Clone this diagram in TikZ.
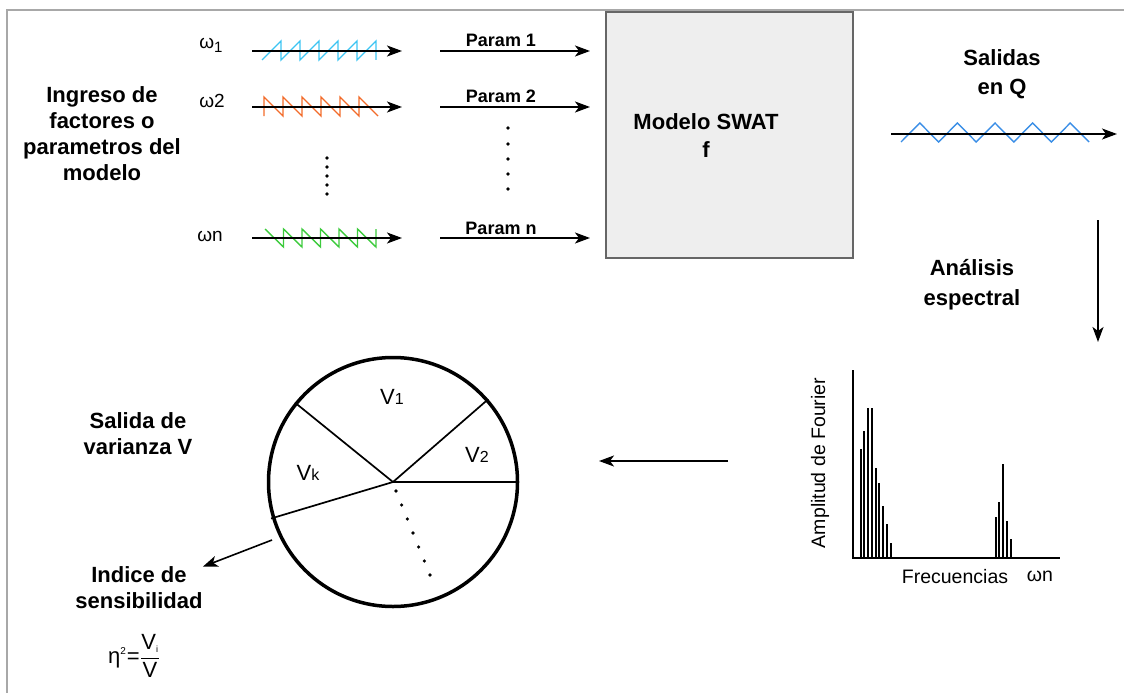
\documentclass[tikz,border=0pt]{standalone}
\usepackage{fontspec}
\setmainfont{Liberation Sans}
\usetikzlibrary{arrows.meta}
\definecolor{cyanw}{HTML}{3CC4F2}
\definecolor{orangew}{HTML}{F26B2A}
\definecolor{greenw}{HTML}{3DCB3D}
\definecolor{bluew}{HTML}{3A8EE6}
\definecolor{framec}{HTML}{A8A8A8}
\definecolor{boxfill}{HTML}{EEEEEE}
\definecolor{boxline}{HTML}{666666}
\begin{document}
\begin{tikzpicture}[x=1pt,y=-1pt,
  title/.style={font=\fontsize{22}{26}\selectfont\bfseries, align=center, inner sep=0pt},
  plab/.style={font=\fontsize{18}{20}\selectfont\bfseries, inner sep=0pt},
  wlab/.style={font=\fontsize{19}{20}\selectfont, inner sep=0pt},
  vlab/.style={font=\fontsize{22}{24}\selectfont, inner sep=0pt},
  slab/.style={font=\fontsize{19.5}{20}\selectfont, inner sep=0pt},
  arr/.style={line width=1.6pt, -{Stealth[length=15pt,width=11pt,inset=4pt]}},
  wave/.style={line width=1.4pt, line join=miter},
  bar/.style={line width=1.8pt},
  dot/.style={fill=black},
]
\useasboundingbox (0,0) rectangle (1124,693);
\draw[framec, line width=2pt] (7,693) -- (7,10) -- (1124,10);

% left title
\node[title] (ingreso) at (102,134) {Ingreso de\\factores o\\parametros del\\modelo};

% omega inputs
\node[wlab] (w1) at (211,45) {ω\raisebox{-4pt}{\fontsize{15}{15}\selectfont 1}};
\node[wlab] (w2) at (212,101) {ω2};
\node[wlab] (wn) at (210,236) {ωn};

\coordinate (a1s) at (252,51);  \coordinate (a1e) at (402,51);
\coordinate (a2s) at (252,107); \coordinate (a2e) at (402,107);
\coordinate (ans) at (252,238); \coordinate (ane) at (402,238);
\draw[cyanw, wave] (262,60) \foreach \i in {1,...,6} { -- ++(19,-19) -- ++(0,19) };
\draw[orangew, wave] (264,116) \foreach \i in {1,...,6} { -- ++(0,-19) -- ++(19,19) };
\draw[greenw, wave] (265,229) \foreach \i in {1,...,6} { -- ++(18.5,18) -- ++(0,-18) };
\draw[arr] (a1s) -- (a1e);
\draw[arr] (a2s) -- (a2e);
\draw[arr] (ans) -- (ane);
\foreach \y in {158,167,176,185,194} \fill[dot] (327,\y) circle (1.8pt);

% params
\node[plab] (p1) at (501,40) {Param 1};
\node[plab] (p2) at (501,96) {Param 2};
\node[plab] (pn) at (501,228) {Param n};
\coordinate (b1s) at (440,51);  \coordinate (b1e) at (590,51);
\coordinate (b2s) at (440,107); \coordinate (b2e) at (590,107);
\coordinate (bns) at (440,238); \coordinate (bne) at (590,238);
\draw[arr] (b1s) -- (b1e);
\draw[arr] (b2s) -- (b2e);
\draw[arr] (bns) -- (bne);
\foreach \y in {128,144,159,174,189} \fill[dot] (508,\y) circle (1.8pt);

% model box
\draw[boxline, fill=boxfill, line width=1.5pt] (606,12) rectangle (853,258);
\node[title] (modelo) at (706,136) {Modelo SWAT\\[2pt]f};

% outputs
\node[title] (salq) at (1002,74) {Salidas\\[3pt]en Q};
\coordinate (qs) at (891,134); \coordinate (qe) at (1117,134);
\draw[bluew, wave] (901,142) \foreach \i in {1,...,5} { -- ++(18.8,-19) -- ++(18.8,19) };
\draw[arr] (qs) -- (qe);

% spectral
\node[title] (analisis) at (972,285) {Análisis\\[4pt]espectral};
\coordinate (ds) at (1098,220); \coordinate (de) at (1098,342);
\draw[arr] (ds) -- (de);

% spectrum chart
\coordinate (ytop) at (853,370); \coordinate (orig) at (853,558); \coordinate (xend) at (1060,558);
\draw[line width=2pt] (ytop) -- (orig) -- (xend);
\foreach \x/\y in {860.7/449, 864.3/431, 868/408, 871.7/408, 875.7/468, 879.3/483, 883.3/506, 887/524, 890.7/543, 995.7/517, 999.3/502, 1003.3/464, 1007/521, 1011/539}
  \draw[bar] (\x,557) -- (\x,\y);
\node[slab] (frec) at (955,577) {Frecuencias};
\node[slab] (wn2) at (1040,576) {ωn};
\node[slab, rotate=90] (ampl) at (820,463) {Amplitud de Fourier};

\coordinate (ls) at (728,461); \coordinate (le) at (599,461);
\draw[arr] (ls) -- (le);

% circle
\node[circle, draw, line width=3.5pt, minimum size=249pt, inner sep=0pt] (circ) at (393,482) {};
\draw[line width=1.7pt] (circ.center) -- (circ.141);
\draw[line width=1.7pt] (circ.center) -- (circ.41);
\draw[line width=1.7pt] (circ.center) -- (circ.0);
\coordinate (llend) at (271,518.5);
\draw[line width=1.7pt] (circ.center) -- (llend);
\foreach \i in {0,...,6} \fill[dot] (396+\i*5.67,491+\i*14) circle (1.8pt);
\node[vlab] (v1) at (392,397) {V\fontsize{16}{16}\selectfont 1};
\node[vlab] (v2) at (477,455) {V\fontsize{16}{16}\selectfont 2};
\node[vlab] (vk) at (308,473) {V\fontsize{16}{16}\selectfont k};

\node[title] (salidav) at (138,434) {Salida de\\varianza V};
\node[title] (indice) at (139,588) {Indice de\\sensibilidad};
\coordinate (is) at (272,540);
\draw[arr] (is) -- (indice.north east);
\node[font=\fontsize{22}{22}\selectfont, inner sep=0pt] (formula) at (134,656)
  {η\raisebox{9pt}{\fontsize{10}{10}\selectfont 2}\hspace{1pt}=\hspace{0.5pt}$\displaystyle\frac{\mbox{V}_{\mbox{\fontsize{9}{9}\selectfont i}}}{\mbox{V}}$};
\end{tikzpicture}
\end{document}
